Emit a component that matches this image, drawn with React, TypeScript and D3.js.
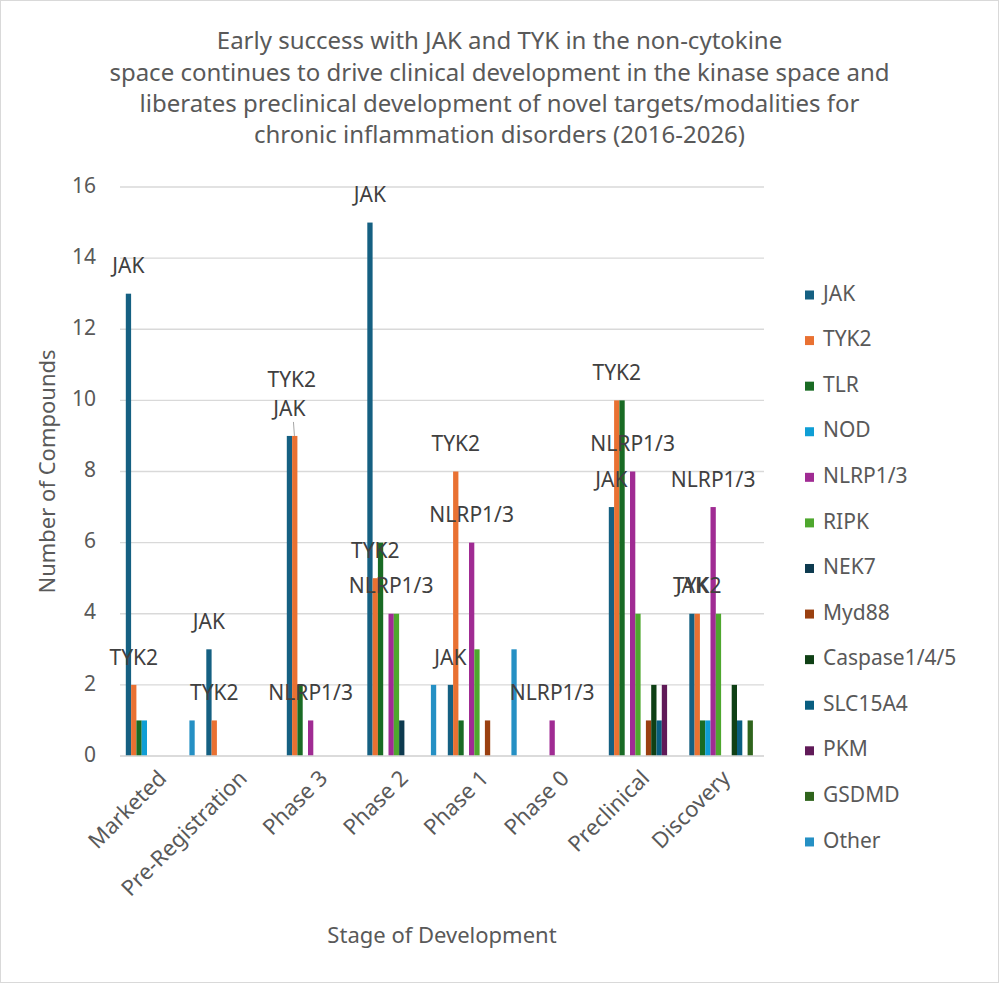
import React from "react";
import * as d3 from "d3";

const categories = ["Marketed", "Pre-Registration", "Phase 3", "Phase 2", "Phase 1", "Phase 0", "Preclinical", "Discovery"];
const seriesNames = ["JAK", "TYK2", "TLR", "NOD", "NLRP1/3", "RIPK", "NEK7", "Myd88", "Caspase1/4/5", "SLC15A4", "PKM", "GSDMD", "Other"];
const seriesColors = ["#156082", "#E97132", "#196B24", "#0F9ED5", "#A02B93", "#4EA72E", "#0D3A4F", "#9A4010", "#0F4015", "#095E80", "#601A58", "#2F641C", "#2590C4"];

const jak = [13, 3, 9, 15, 2, 0, 7, 4];
const tyk2 = [2, 1, 9, 5, 8, 0, 10, 4];
const tlr = [1, 0, 2, 6, 1, 0, 10, 1];
const nod = [1, 0, 0, 0, 0, 0, 0, 1];
const nlrp = [0, 0, 1, 4, 6, 1, 8, 7];
const ripk = [0, 0, 0, 4, 3, 0, 4, 4];
const nek7 = [0, 0, 0, 1, 0, 0, 0, 0];
const myd88 = [0, 0, 0, 0, 1, 0, 1, 0];
const caspase = [0, 0, 0, 0, 0, 0, 2, 2];
const slc15a4 = [0, 0, 0, 0, 0, 0, 1, 1];
const pkm = [0, 0, 0, 0, 0, 0, 2, 0];
const gsdmd = [0, 0, 0, 0, 0, 0, 0, 1];
const other = [1, 0, 0, 2, 3, 0, 0, 0];

const seriesValues = [jak, tyk2, tlr, nod, nlrp, ripk, nek7, myd88, caspase, slc15a4, pkm, gsdmd, other];
const labelledSeries = ["JAK", "TYK2", "NLRP1/3"];
const yTicks = [0, 2, 4, 6, 8, 10, 12, 14, 16];

const titleLines = [
  "Early success with JAK and TYK in the non-cytokine",
  "space continues to drive clinical development in the kinase space and",
  "liberates preclinical development of novel targets/modalities for",
  "chronic inflammation disorders (2016-2026)",
];

const W = 999;
const H = 983;
const plot = { left: 120, right: 764, top: 187, bottom: 756 };
const FONT = "'Noto Sans', 'Open Sans', sans-serif";
const TXT = "#595959";
const GRID = "#d9d9d9";

export default function App() {
  const x = d3.scaleBand<string>().domain(categories).range([plot.left, plot.right]).paddingInner(0).paddingOuter(0);
  const bw = x.bandwidth();
  const barW = bw / (seriesNames.length + 2.19);
  const gap = (bw - barW * seriesNames.length) / 2;
  const xs = d3.scaleBand<string>().domain(seriesNames).range([gap, bw - gap]).padding(0);
  const y = d3.scaleLinear().domain([0, 16]).range([plot.bottom, plot.top]);

  const labels: { key: string; x: number; y: number; text: string; leader?: number[] }[] = [];
  categories.forEach((c, ci) => {
    seriesNames.forEach((s, si) => {
      if (!labelledSeries.includes(s)) return;
      const v = seriesValues[si][ci];
      if (!v) return;
      const cx = (x(c) as number) + (xs(s) as number) + xs.bandwidth() / 2;
      let ly = y(v) - 26;
      let lx = cx;
      let leader: number[] | undefined;
      // collision handling seen in the reference (Phase 3: JAK & TYK2 equal)
      if (c === "Phase 3" && s === "TYK2") {
        ly = y(v) - 55;
        lx = cx - 3;
      }
      if (c === "Phase 3" && s === "JAK") {
        leader = [cx + 4, ly + 12, cx + 5, y(v)];
      }
      labels.push({ key: c + s, x: lx, y: ly, text: s, leader });
    });
  });

  const legendY0 = 295;
  const legendStep = 45.58;

  return (
    <svg width={W} height={H} style={{ position: "absolute", left: 0, top: 0, background: "#fff" }} fontFamily={FONT}>
      <rect x={0.5} y={0.5} width={W - 1} height={H - 1} fill="#fff" stroke="#d9d9d9" />
      {titleLines.map((t, i) => (
        <text key={i} x={W / 2} y={43 + i * 31.3} textAnchor="middle" dominantBaseline="middle" fontSize={24} fill={TXT}>
          {t}
        </text>
      ))}
      {yTicks.map((t) => (
        <g key={t}>
          <line x1={plot.left} x2={plot.right} y1={y(t)} y2={y(t)} stroke={GRID} strokeWidth={1.3} />
          <text x={96} y={y(t)} textAnchor="end" dominantBaseline="middle" fontSize={21} fill={TXT}>
            {t}
          </text>
        </g>
      ))}
      {categories.map((c, ci) => (
        <g key={c}>
          {seriesNames.map((s, si) => {
            const v = seriesValues[si][ci];
            if (!v) return null;
            return (
              <rect
                key={s}
                x={(x(c) as number) + (xs(s) as number)}
                y={y(v)}
                width={xs.bandwidth()}
                height={y(0) - y(v)}
                fill={seriesColors[si]}
              />
            );
          })}
        </g>
      ))}
      <line x1={plot.left} x2={plot.right} y1={y(0)} y2={y(0)} stroke={GRID} strokeWidth={1.5} />
      {labels.map((l) => (
        <g key={l.key}>
          {l.leader && <line x1={l.leader[0]} y1={l.leader[1]} x2={l.leader[2]} y2={l.leader[3]} stroke="#a6a6a6" strokeWidth={1} />}
          <text x={l.x} y={l.y} textAnchor="middle" dominantBaseline="middle" fontSize={21} fill="#404040">
            {l.text}
          </text>
        </g>
      ))}
      {categories.map((c) => {
        const cx = (x(c) as number) + bw / 2 - 6;
        return (
          <text
            key={c}
            transform={`translate(${cx},${766}) rotate(-45)`}
            textAnchor="end"
            dominantBaseline="hanging"
            fontSize={22}
            fill={TXT}
          >
            {c}
          </text>
        );
      })}
      <text x={(plot.left + plot.right) / 2} y={937} textAnchor="middle" dominantBaseline="middle" fontSize={22} fill={TXT}>
        Stage of Development
      </text>
      <text
        transform={`translate(49,${(plot.top + plot.bottom) / 2}) rotate(-90)`}
        textAnchor="middle"
        dominantBaseline="middle"
        fontSize={22}
        fill={TXT}
      >
        Number of Compounds
      </text>
      {seriesNames.map((s, i) => (
        <g key={s} transform={`translate(805,${legendY0 + i * legendStep})`}>
          <rect x={0} y={-4.5} width={9} height={9} fill={seriesColors[i]} />
          <text x={18} y={0} dominantBaseline="middle" fontSize={21} fill={TXT}>
            {s}
          </text>
        </g>
      ))}
    </svg>
  );
}
